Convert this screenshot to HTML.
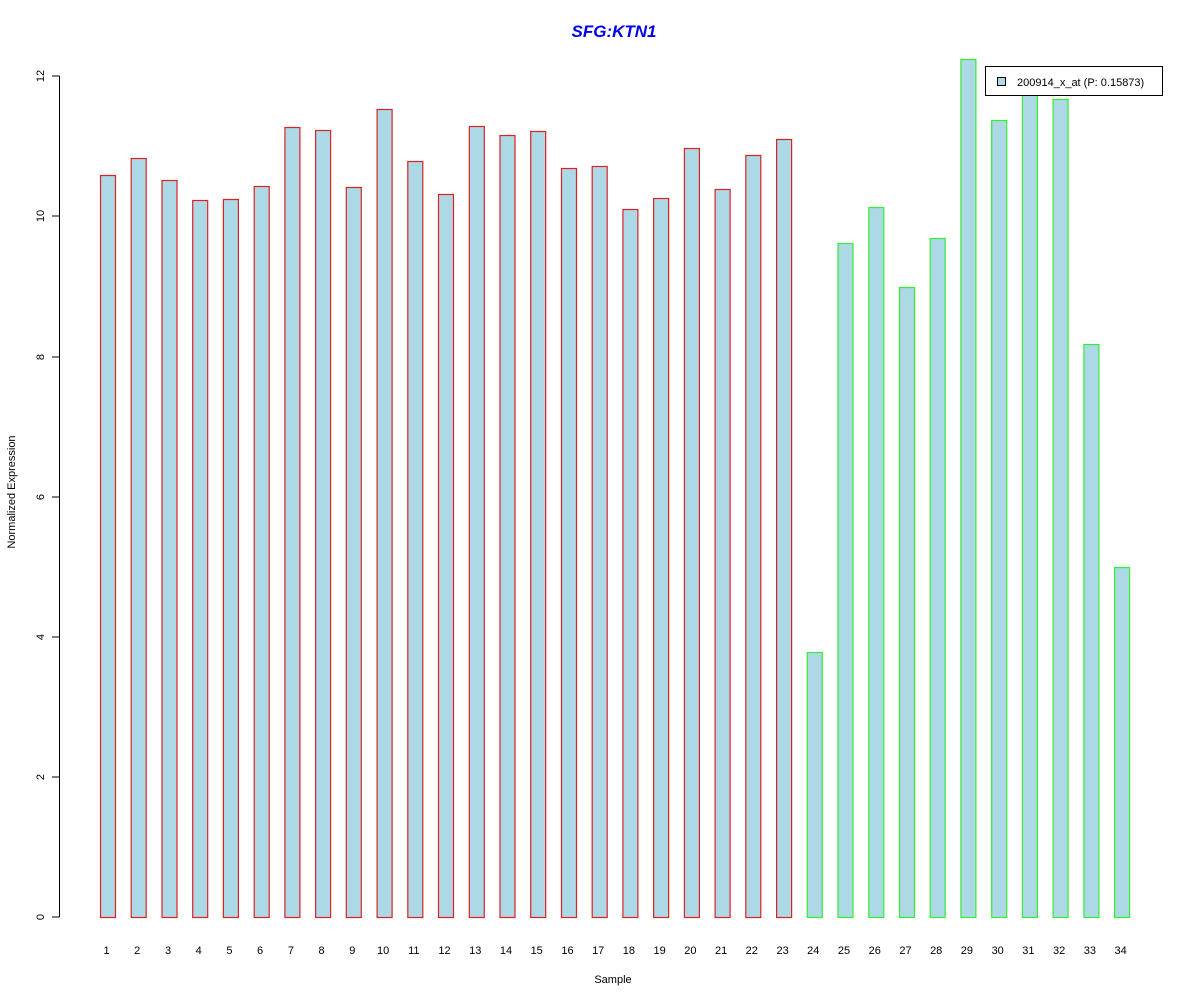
<!DOCTYPE html>
<html><head><meta charset="utf-8"><style>
html,body{margin:0;padding:0;background:#fff;}
svg{display:block;font-family:"Liberation Sans",Arial,sans-serif;}
</style></head><body>
<svg width="1200" height="1000" viewBox="0 0 1200 1000" xmlns="http://www.w3.org/2000/svg">
<rect width="1200" height="1000" fill="#fff"/>
<text x="614" y="37" text-anchor="middle" font-size="17" font-weight="bold" font-style="italic" fill="#0000EE">SFG:KTN1</text>
<g id="bars" stroke-width="1.2" fill="#ADD8E6"></g>
<g id="labels" font-size="11" fill="#000" text-anchor="middle"></g>
<line x1="59.5" y1="76" x2="59.5" y2="917" stroke="#000"/>
<g stroke="#000">
<line x1="52" y1="917" x2="59.5" y2="917"/><line x1="52" y1="777" x2="59.5" y2="777"/>
<line x1="52" y1="637" x2="59.5" y2="637"/><line x1="52" y1="497" x2="59.5" y2="497"/>
<line x1="52" y1="357" x2="59.5" y2="357"/><line x1="52" y1="216" x2="59.5" y2="216"/>
<line x1="52" y1="76" x2="59.5" y2="76"/>
</g>
<g font-size="11" text-anchor="middle">
<text transform="translate(44,917) rotate(-90)">0</text>
<text transform="translate(44,777) rotate(-90)">2</text>
<text transform="translate(44,637) rotate(-90)">4</text>
<text transform="translate(44,497) rotate(-90)">6</text>
<text transform="translate(44,357) rotate(-90)">8</text>
<text transform="translate(44,216) rotate(-90)">10</text>
<text transform="translate(44,76) rotate(-90)">12</text>
</g>
<text transform="translate(15,492) rotate(-90)" font-size="11" text-anchor="middle">Normalized Expression</text>
<text x="613" y="983" font-size="11" text-anchor="middle">Sample</text>
<rect x="985.5" y="66.5" width="177" height="29" fill="#fff" stroke="#000"/>
<rect x="997.5" y="77.5" width="8" height="8" fill="#ADD8E6" stroke="#000"/>
<text x="1017" y="86" font-size="11">200914_x_at (P: 0.15873)</text>
<script>
var tops=[175,158,180,200,199,186,127,130,187,109,161,194,126,135,131,168,166,209,198,148,189,155,139,652,243,207,287,238,59,120,90,99,344,567];
var ns="http://www.w3.org/2000/svg",b=document.getElementById("bars"),l=document.getElementById("labels");
for(var i=0;i<34;i++){
 var x=100+i*30.73;
 var r=document.createElementNS(ns,"rect");
 r.setAttribute("x",(x+0.5).toFixed(1));r.setAttribute("y",tops[i]+0.5);
 r.setAttribute("width",15);r.setAttribute("height",917-tops[i]);
 r.setAttribute("stroke",i<23?"#DD2222":"#33EE33");
 b.appendChild(r);
 var t=document.createElementNS(ns,"text");
 t.setAttribute("x",(x+6.5).toFixed(1));t.setAttribute("y",954);t.textContent=i+1;
 l.appendChild(t);
}
</script>
</svg>
</body></html>
